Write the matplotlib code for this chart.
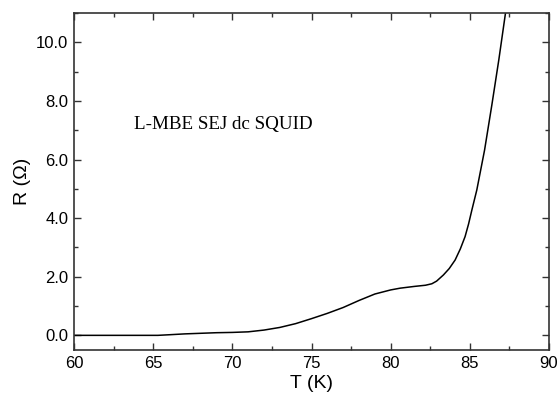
import numpy as np
import matplotlib.pyplot as plt
from matplotlib.ticker import MultipleLocator, FormatStrFormatter

# R(T) curve
temp = [60, 62, 64, 65.3, 66, 67, 68, 69, 70, 71, 72, 73, 74, 75, 76, 77, 78,
        79, 80, 80.6, 81.5, 82.2, 82.6, 82.9, 83.33, 83.7, 84.07, 84.4, 84.7,
        84.92, 85.13, 85.44, 85.93, 86.39, 86.83, 87.25]
resist = [0.0, 0.0, 0.0, 0.0, 0.02, 0.05, 0.07, 0.09, 0.1, 0.12, 0.18, 0.27,
          0.4, 0.57, 0.75, 0.95, 1.19, 1.41, 1.55, 1.61, 1.67, 1.71, 1.76,
          1.85, 2.06, 2.28, 2.57, 2.95, 3.37, 3.8, 4.28, 4.96, 6.32, 7.86,
          9.4, 10.99]

plt.rcParams['font.family'] = 'Liberation Sans'

fig = plt.figure(figsize=(5.6, 3.97), dpi=100)
ax = fig.add_axes([74 / 560, 1 - 350 / 397, 475 / 560, 337 / 397])

ax.plot(temp, resist, color='black', lw=1.1)

ax.set_xlim(60, 90)
ax.set_ylim(-0.5, 11)
ax.xaxis.set_major_locator(MultipleLocator(5))
ax.xaxis.set_minor_locator(MultipleLocator(2.5))
ax.yaxis.set_major_locator(MultipleLocator(2))
ax.yaxis.set_minor_locator(MultipleLocator(1))
ax.yaxis.set_major_formatter(FormatStrFormatter('%.1f'))

ax.tick_params(which='both', direction='in', top=True, right=True,
               labelsize=12, color='#333333', width=1, pad=4)
ax.tick_params(which='major', length=5)
ax.tick_params(which='minor', length=3)
for s in ax.spines.values():
    s.set_linewidth(1.2)
    s.set_color('#333333')

ax.set_xlabel('T (K)', fontsize=14, labelpad=3)
ax.set_ylabel('R (\u03a9)', fontsize=14, labelpad=4)

ax.text(0.126, 0.67, 'L-MBE SEJ dc SQUID', transform=ax.transAxes,
        family='Liberation Serif', fontsize=13.7, va='center')

fig.savefig('out.png', dpi=100)
